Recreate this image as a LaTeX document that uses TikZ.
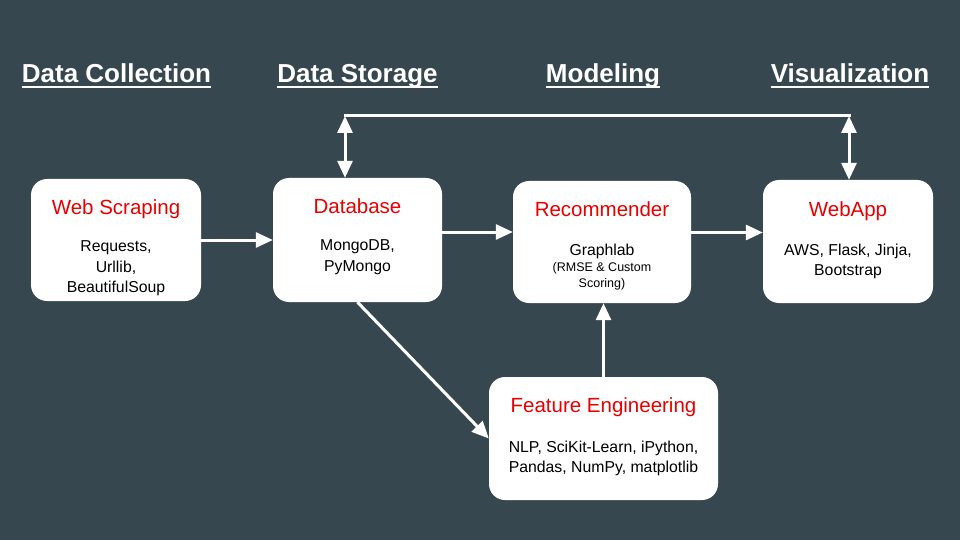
\documentclass[tikz,border=0pt]{standalone}
\usepackage{fontspec}
\setmainfont{Liberation Sans}
\usetikzlibrary{arrows.meta}
\definecolor{slate}{RGB}{55,71,79}
\definecolor{titlered}{RGB}{232,0,0}

\begin{document}
\begin{tikzpicture}[x=1pt,y=-1pt,
  box/.style={fill=white, rounded corners=16pt, inner sep=0pt},
  boxtitle/.style={anchor=base, inner sep=0pt, text=titlered, font=\fontsize{20.5}{24}\selectfont},
  boxbody/.style={anchor=north, inner sep=0pt, align=center, font=\fontsize{15.8}{20.5}\selectfont},
  boxsmall/.style={anchor=north, inner sep=0pt, align=center, font=\fontsize{12.5}{16}\selectfont},
  head/.style={anchor=base, inner sep=0pt, text=white, font=\bfseries\fontsize{26}{30}\selectfont},
  headline/.style={white, line width=2pt},
  flow/.style={white, line width=3pt, -{Triangle[length=17pt,width=15pt]}},
  link/.style={white, line width=3pt, {Triangle[length=17pt,width=15pt]}-{Triangle[length=17pt,width=15pt]}}]
\fill[slate] (0,0) rectangle (960,540);
\useasboundingbox (0,0) rectangle (960,540);
%
% headings
\node[head] (hcol) at (116.5,83) {Data Collection};
\node[head] (hsto) at (357.5,83) {Data Storage};
\node[head] (hmod) at (603,83) {Modeling};
\node[head] (hvis) at (850,83) {Visualization};
\foreach \h in {hcol,hsto,hmod,hvis}
  \draw[headline] ([yshift=-4.5pt]\h.base west) -- ([yshift=-4.5pt]\h.base east);
%
% boxes
\node[box, minimum width=170pt, minimum height=122pt] (ws) at (116,240) {};
\node[box, minimum width=169pt, minimum height=124pt] (db) at (357.5,240) {};
\node[box, minimum width=178pt, minimum height=122pt] (rec) at (602,242) {};
\node[box, minimum width=170pt, minimum height=123pt] (web) at (848,241.5) {};
\node[box, minimum width=229pt, minimum height=123pt] (fe) at (603.5,438.5) {};
%
\node[boxtitle] (wst) at ([yshift=-36pt]ws.north) {Web Scraping};
\node[boxbody] (wsb) at ([yshift=-62pt]ws.north) {Requests,\\Urllib,\\BeautifulSoup};
\node[boxtitle] (dbt) at ([yshift=-36pt]db.north) {Database};
\node[boxbody] (dbb) at ([yshift=-62pt]db.north) {MongoDB,\\PyMongo};
\node[boxtitle] (rect) at ([yshift=-36pt]rec.north) {Recommender};
\node[boxbody] (recb) at ([yshift=-63pt]rec.north) {Graphlab};
\node[boxsmall] (recs) at ([yshift=-3pt]recb.south) {(RMSE \& Custom\\Scoring)};
\node[boxtitle] (webt) at ([yshift=-37pt]web.north) {WebApp};
\node[boxbody] (webb) at ([yshift=-64pt]web.north) {AWS, Flask, Jinja,\\Bootstrap};
\node[boxtitle] (fet) at ([yshift=-36pt]fe.north) {Feature Engineering};
\node[boxbody] (feb) at ([yshift=-64pt]fe.north) {NLP, SciKit-Learn, iPython,\\Pandas, NumPy, matplotlib};
%
% arrows
\coordinate (dbout) at ([yshift=8pt]db.east);
\coordinate (recout) at ([yshift=9.5pt]rec.east);
\draw[flow] (ws.east) -- (ws.east -| db.west);
\draw[flow] (dbout) -- (dbout -| rec.west);
\draw[flow] (recout) -- (recout -| web.west);
\draw[flow] (db.south) -- (fe.west);
\draw[flow] (fe.north) -- (fe.north |- rec.south);
%
\coordinate (dbup) at (345,116);
\coordinate (webup) at (849,116);
\draw[white, line width=3pt, line cap=rect] (dbup) -- (webup);
\draw[link] (dbup) -- (dbup |- db.north);
\draw[link] (webup) -- (webup |- web.north);
\end{tikzpicture}
\end{document}
